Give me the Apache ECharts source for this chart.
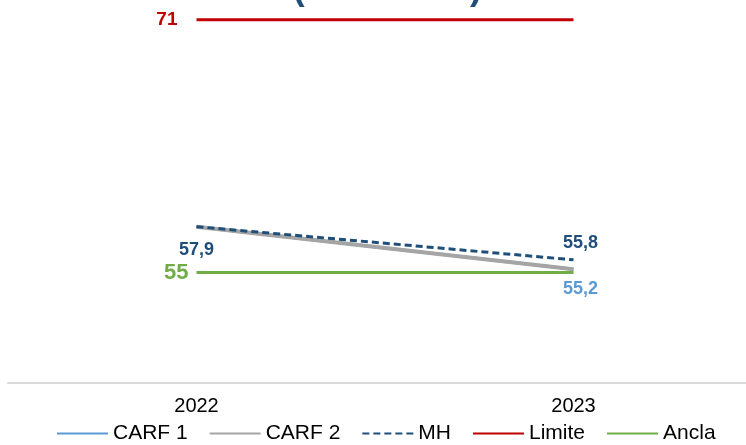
<!DOCTYPE html>
<html>
<head>
<meta charset="utf-8">
<script src="https://cdn.jsdelivr.net/npm/echarts@6/dist/echarts.min.js"></script>
<style>
    html, body { margin: 0; padding: 0; background: #fff; }
    #chart { width: 746px; height: 445px; }
</style>
</head>
<body>
<div id="chart"></div>
<script>
    // datos
    var years = ['2022', '2023'];
    var carf1 = [57.9, 55.2];
    var carf2 = [57.9, 55.2];
    var mh = [57.9, 55.8];
    var limite = [71, 71];
    var ancla = [55, 55];

    function fmt(p) {
        return String(p.value).replace('.', ',');
    }

    // arma los puntos, con etiqueta solo donde hace falta
    function pts(arr, labels) {
        return arr.map(function (v, i) {
            var item = {value: v};
            if (labels[i]) {
                item.label = Object.assign({show: true, fontWeight: 'bold', fontFamily: 'Liberation Sans', formatter: fmt}, labels[i]);
            }
            return item;
        });
    }

    function serie(name, color, width, arr, labels, dash) {
        return {
            name: name,
            type: 'line',
            symbol: 'circle',
            symbolSize: 0,
            itemStyle: {color: color},
            lineStyle: {color: color, width: width, type: dash || 'solid'},
            data: pts(arr, labels)
        };
    }

    var myChart = echarts.init(document.getElementById('chart'));
    var options = {
        animation: false,
        title: {
            text: '(Lden dBA)',
            left: 288,
            top: -32,
            textStyle: {color: '#1f4e79', fontSize: 35, fontWeight: 'bold', fontFamily: 'Liberation Sans'}
        },
        grid: {
            left: 8,
            width: 754,
            top: 4,
            bottom: 62,
            outerBoundsMode: 'none'
        },
        legend: {
            bottom: -4,
            left: 51,
            itemWidth: 51,
            itemHeight: 14,
            itemGap: 21,
            itemStyle: {opacity: 0},
            textStyle: {fontSize: 21, color: '#000', fontFamily: 'Liberation Sans'},
            data: ['CARF 1', 'CARF 2', 'MH', 'Limite', 'Ancla']
        },
        xAxis: {
            type: 'category',
            data: years,
            axisTick: {show: false},
            axisLine: {lineStyle: {color: '#d9d9d9', width: 2}},
            axisLabel: {fontSize: 20, color: '#000', margin: 13, fontFamily: 'Liberation Sans'}
        },
        yAxis: {
            type: 'value',
            min: 48,
            max: 72,
            show: false,
            splitLine: {show: false}
        },
        series: [
            serie('CARF 1', '#5b9bd5', 3, carf1, [null, {position: 'bottom', distance: 11, color: '#5b9bd5', fontSize: 18, offset: [7, 0]}]),
            serie('CARF 2', '#a5a5a5', 4, carf2, [null, null]),
            serie('MH', '#1f4e79', 3, mh, [
                {position: 'bottom', distance: 14, color: '#1f4e79', fontSize: 18},
                {position: 'top', distance: 8, color: '#1f4e79', fontSize: 18, offset: [7, 0]}
            ], [7, 4]),
            serie('Limite', '#c00000', 3, limite, [{position: 'left', distance: 19, color: '#c00000', fontSize: 19}, null]),
            serie('Ancla', '#70ad47', 3, ancla, [{position: 'left', distance: 8, color: '#70ad47', fontSize: 22}, null])
        ]
    };
    myChart.setOption(options);
</script>
</body>
</html>
